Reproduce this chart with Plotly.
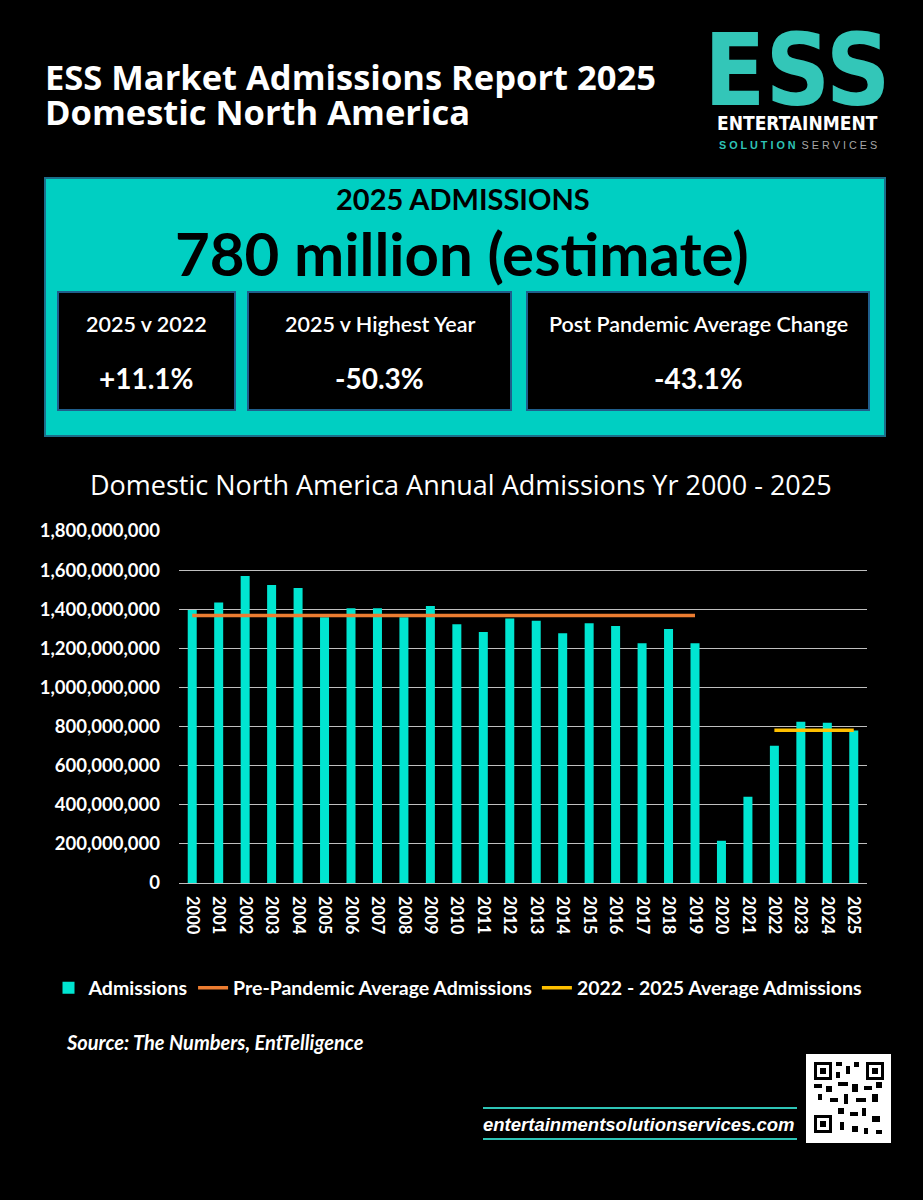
import plotly.graph_objects as go

# ---------------- data ----------------
years = [str(y) for y in range(2000, 2026)]
admissions = [1396e6, 1435e6, 1570e6, 1524e6, 1508e6, 1359e6, 1405e6, 1405e6, 1359e6, 1416e6,
              1323e6, 1284e6, 1353e6, 1341e6, 1277e6, 1328e6, 1314e6, 1226e6, 1299e6, 1226e6,
              216e6, 441e6, 702e6, 825e6, 820e6, 780e6]
pre_years = years[:20]
pre_pandemic_avg = 1368e6
recent_years = years[22:]
recent_avg = 781e6
y_ticks = [0, 200e6, 400e6, 600e6, 800e6, 1000e6, 1200e6, 1400e6, 1600e6, 1800e6]

kpi_labels = ["2025 v 2022", "2025 v Highest Year", "Post Pandemic Average Change"]
kpi_values = ["+11.1%", "-50.3%", "-43.1%"]

# ---------------- styling ----------------
W, H = 923, 1200
BAR = "#00E5D1"
ORANGE = "#ED7D31"
YELLOW = "#FFC000"
TEAL_BOX = "#00CFC2"
FONT = "Lato, Open Sans, sans-serif"
OPEN = "Open Sans, Lato, sans-serif"


def X(px):
    return px / W


def Y(py):
    return 1 - py / H


fig = go.Figure()
fig.add_trace(go.Bar(x=years, y=admissions, name="Admissions", marker_color=BAR,
                     marker_line_width=0, width=0.34))
fig.add_trace(go.Scatter(x=pre_years, y=[pre_pandemic_avg] * len(pre_years), mode="lines",
                         name="Pre-Pandemic Average Admissions",
                         line=dict(color=ORANGE, width=3.5)))
fig.add_trace(go.Scatter(x=recent_years, y=[recent_avg] * len(recent_years), mode="lines",
                         name="2022 - 2025 Average Admissions",
                         line=dict(color=YELLOW, width=3.5)))

shapes = []
annotations = []

# teal KPI box
shapes.append(dict(type="rect", xref="paper", yref="paper", x0=X(45), x1=X(885), y0=Y(436), y1=Y(178),
                   fillcolor=TEAL_BOX, line=dict(color="#1B6E8A", width=2), layer="below"))
boxes = [(58, 235), (248, 511), (527, 869)]
for (a, b), lab, val in zip(boxes, kpi_labels, kpi_values):
    shapes.append(dict(type="rect", xref="paper", yref="paper", x0=X(a), x1=X(b), y0=Y(410), y1=Y(292),
                       fillcolor="black", line=dict(color="#1F5E8C", width=2), layer="below"))
    annotations.append(dict(xref="paper", yref="paper", x=X((a + b) / 2), y=Y(324), text=lab,
                            showarrow=False, font=dict(family=FONT, size=21.5, color="white", weight=600),
                            xanchor="center", yanchor="middle"))
    annotations.append(dict(xref="paper", yref="paper", x=X((a + b) / 2), y=Y(378), text="<b>" + val + "</b>",
                            showarrow=False, font=dict(family=FONT, size=28, color="white"),
                            xanchor="center", yanchor="middle"))

annotations.append(dict(xref="paper", yref="paper", x=X(463), y=Y(199), text="<b>2025 ADMISSIONS</b>",
                        showarrow=False, font=dict(family=FONT, size=29, color="black"),
                        xanchor="center", yanchor="middle"))
annotations.append(dict(xref="paper", yref="paper", x=X(462), y=Y(253), text="<b>780 million (estimate)</b>",
                        showarrow=False, font=dict(family=FONT, size=60, color="black"),
                        xanchor="center", yanchor="middle"))

# header title
annotations.append(dict(xref="paper", yref="paper", x=X(43), y=Y(76),
                        text="<b>ESS Market Admissions Report 2025</b>",
                        showarrow=False, font=dict(family=OPEN, size=34.5, color="white"),
                        xanchor="left", yanchor="middle"))
annotations.append(dict(xref="paper", yref="paper", x=X(43), y=Y(111),
                        text="<b>Domestic North America</b>",
                        showarrow=False, font=dict(family=OPEN, size=34.5, color="white"),
                        xanchor="left", yanchor="middle"))

# logo
annotations.append(dict(xref="paper", yref="paper", x=X(797), y=Y(70), text="<b>ESS</b>",
                        showarrow=False,
                        font=dict(family="DejaVu Sans Condensed, Liberation Sans, sans-serif", size=100,
                                  color="#33C6B8"),
                        xanchor="center", yanchor="middle"))
annotations.append(dict(xref="paper", yref="paper", x=X(797), y=Y(123), text="<b>ENTERTAINMENT</b>",
                        showarrow=False,
                        font=dict(family="DejaVu Sans Condensed, Liberation Sans, sans-serif", size=19,
                                  color="white"),
                        xanchor="center", yanchor="middle"))
annotations.append(dict(xref="paper", yref="paper", x=X(798), y=Y(145),
                        text="<b><span style='color:#2EC4B6'>S O L U T I O N</span></b>  S E R V I C E S",
                        showarrow=False,
                        font=dict(family="Liberation Sans, sans-serif", size=10.8, color="#A6A6A6"),
                        xanchor="center", yanchor="middle"))

# chart title
annotations.append(dict(xref="paper", yref="paper", x=X(461), y=Y(484),
                        text="Domestic North America Annual Admissions Yr 2000 - 2025",
                        showarrow=False, font=dict(family=OPEN, size=27, color="white"),
                        xanchor="center", yanchor="middle"))

# source
annotations.append(dict(xref="paper", yref="paper", x=X(64), y=Y(1042),
                        text="<b><i>Source: The Numbers, EntTelligence</i></b>",
                        showarrow=False, font=dict(family=FONT, size=20, color="white"),
                        xanchor="left", yanchor="middle"))

# footer website
shapes.append(dict(type="line", xref="paper", yref="paper", x0=X(483), x1=X(797), y0=Y(1108), y1=Y(1108),
                   line=dict(color="#2EC4B6", width=2)))
shapes.append(dict(type="line", xref="paper", yref="paper", x0=X(483), x1=X(797), y0=Y(1139), y1=Y(1139),
                   line=dict(color="#2EC4B6", width=2)))
annotations.append(dict(xref="paper", yref="paper", x=X(639), y=Y(1124),
                        text="<b><i>entertainmentsolutionservices.com</i></b>",
                        showarrow=False, font=dict(family="Liberation Sans, Arial, sans-serif", size=18.5, color="white"),
                        xanchor="center", yanchor="middle"))

# QR code placeholder (white tile with finder patterns)
shapes.append(dict(type="rect", xref="paper", yref="paper", x0=X(806), x1=X(891), y0=Y(1143), y1=Y(1054),
                   fillcolor="white", line=dict(width=0)))
for (fx, fy) in [(814, 1062), (866, 1062), (814, 1115)]:
    shapes.append(dict(type="rect", xref="paper", yref="paper", x0=X(fx), x1=X(fx + 18), y0=Y(fy + 18), y1=Y(fy),
                       fillcolor="black", line=dict(width=0)))
    shapes.append(dict(type="rect", xref="paper", yref="paper", x0=X(fx + 3), x1=X(fx + 15), y0=Y(fy + 15), y1=Y(fy + 3),
                       fillcolor="white", line=dict(width=0)))
    shapes.append(dict(type="rect", xref="paper", yref="paper", x0=X(fx + 6), x1=X(fx + 12), y0=Y(fy + 12), y1=Y(fy + 6),
                       fillcolor="black", line=dict(width=0)))
for (mx, my, mw, mh) in [(836, 1062, 6, 4), (846, 1066, 4, 8), (854, 1062, 5, 5), (836, 1072, 4, 6),
                         (814, 1084, 8, 4), (826, 1086, 6, 6), (838, 1082, 10, 4), (852, 1084, 6, 8),
                         (864, 1086, 8, 4), (876, 1082, 6, 6), (818, 1094, 4, 6), (830, 1098, 8, 4),
                         (844, 1094, 4, 10), (856, 1098, 10, 4), (872, 1094, 6, 8), (838, 1108, 6, 6),
                         (850, 1112, 8, 4), (862, 1108, 4, 8), (872, 1116, 8, 6), (840, 1122, 4, 8),
                         (852, 1126, 6, 6), (864, 1128, 4, 6), (876, 1130, 6, 4)]:
    shapes.append(dict(type="rect", xref="paper", yref="paper", x0=X(mx), x1=X(mx + mw), y0=Y(my + mh), y1=Y(my),
                       fillcolor="black", line=dict(width=0)))

fig.update_layout(
    width=W, height=H,
    margin=dict(l=0, r=0, t=0, b=0, autoexpand=False),
    paper_bgcolor="black", plot_bgcolor="black",
    showlegend=True,
    legend=dict(orientation="h", x=X(458), xanchor="center", y=Y(988), yanchor="middle",
                font=dict(family=FONT, size=19.5, color="white", weight="bold"), bgcolor="rgba(0,0,0,0)",
                itemwidth=30, tracegroupgap=0),
    xaxis=dict(domain=[X(179), X(867)], type="category", tickangle=90, showgrid=False,
               showline=False, ticks="", ticklabelstandoff=12, automargin=False,
               tickfont=dict(family=FONT, size=16.5, color="white", weight="bold")),
    yaxis=dict(domain=[Y(883), Y(531)], range=[0, 1.8e9], tickvals=y_ticks, tickformat=",",
               showgrid=True, gridcolor="#BFBFBF", gridwidth=1.3, zeroline=True, zerolinecolor="#BFBFBF",
               zerolinewidth=1.3, ticks="", ticklabelstandoff=18, automargin=False,
               tickfont=dict(family=FONT, size=18.5, color="white", weight="bold")),
    shapes=shapes, annotations=annotations,
    font=dict(family=FONT, color="white"),
)

fig.write_html("out.html", config={"displayModeBar": False},
               post_script="document.body.style.margin='0';document.body.style.background='black';")
